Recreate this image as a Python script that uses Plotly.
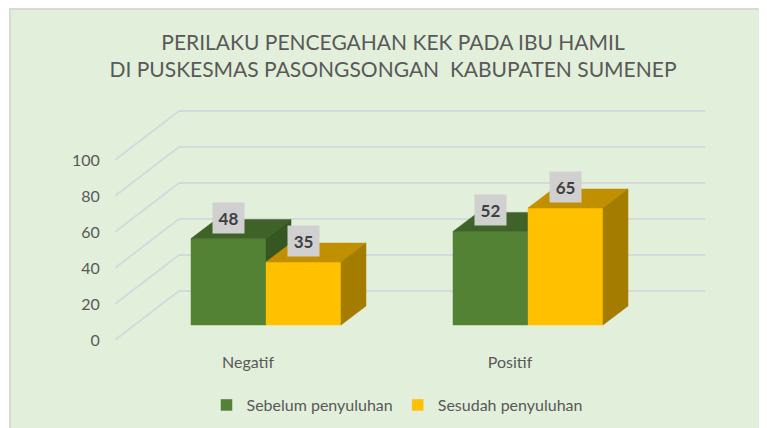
import plotly.graph_objects as go

# ---------------- data ----------------
categories = ["Negatif", "Positif"]
series_names = ["Sebelum penyuluhan", "Sesudah penyuluhan"]
sebelum = [48, 52]
sesudah = [35, 65]
y_ticks = [0, 20, 40, 60, 80, 100]
title_lines = ["PERILAKU PENCEGAHAN KEK PADA IBU HAMIL",
               "DI PUSKESMAS PASONGSONGAN  KABUPATEN SUMENEP"]

# ---------------- styles / layout constants (page pixels) ----------------
PAGE_W, PAGE_H = 767, 428
OFF = 8                        # browser body margin
W, H = PAGE_W - OFF, PAGE_H - OFF
PX = 1.8                       # pixels per value unit
PLOT_LEFT, PLOT_BOTTOM = 115, 340   # page px
ML = PLOT_LEFT - OFF
MB = H - (PLOT_BOTTOM - OFF)
AXIS_X = 115
WALL_DX, WALL_DY = 64, 49 / PX
WALL_RIGHT = 705
GROUP0, GROUP_STEP = 191, 262
BAR_W = 75
BAR_BASE = 15 / PX
DEPTH_DX, DEPTH_DY = 25, 19 / PX
LABEL_DX = -18

FONT = "Lato, 'Open Sans', sans-serif"
TXT = "#595959"
BG = "#e2efda"
GRID = "#d5d8dc"
colors = {
    "front": ["#548235", "#ffc000"],
    "top": ["#3e6228", "#c09000"],
    "side": ["#365722", "#a47c00"],
}

fig = go.Figure()

# ---- gridlines: diagonal (left wall) + back wall ----
gx, gy = [], []
for v in y_ticks:
    gx += [AXIS_X, AXIS_X + WALL_DX, WALL_RIGHT, None]
    gy += [v, v + WALL_DY, v + WALL_DY, None]
fig.add_trace(go.Scatter(x=gx, y=gy, mode="lines", line=dict(color=GRID, width=1.8),
                         hoverinfo="skip", showlegend=False))

# ---- 3D bars drawn as faces ----
all_series = [sebelum, sesudah]
for s, vals in enumerate(all_series):
    fx, fy, tx, ty, sx, sy = [], [], [], [], [], []
    for i, v in enumerate(vals):
        x0 = GROUP0 + i * GROUP_STEP + s * BAR_W
        x1 = x0 + BAR_W
        b = BAR_BASE
        t = BAR_BASE + v
        fx += [x0, x1, x1, x0, x0, None]
        fy += [b, b, t, t, b, None]
        tx += [x0, x1, x1 + DEPTH_DX, x0 + DEPTH_DX, x0, None]
        ty += [t, t, t + DEPTH_DY, t + DEPTH_DY, t, None]
        sx += [x1, x1 + DEPTH_DX, x1 + DEPTH_DX, x1, x1, None]
        sy += [b, b + DEPTH_DY, t + DEPTH_DY, t, b, None]
    for (xx, yy, key) in [(fx, fy, "front"), (tx, ty, "top"), (sx, sy, "side")]:
        fig.add_trace(go.Scatter(x=xx, y=yy, mode="lines", fill="toself",
                                 fillcolor=colors[key][s],
                                 line=dict(color=colors[key][s], width=0.5),
                                 hoverinfo="skip", showlegend=False))
    # data labels
    for i, v in enumerate(vals):
        x0 = GROUP0 + i * GROUP_STEP + s * BAR_W
        fig.add_annotation(x=x0 + BAR_W / 2, y=BAR_BASE + v, yshift=21,
                           text=f"<b>{v}</b>", showarrow=False,
                           font=dict(family=FONT, size=17, color="#404040"),
                           bgcolor="#d0d0d0", width=31, height=30, borderpad=0,
                           xanchor="center", yanchor="middle")

# ---- legend entries ----
for s, name in enumerate(series_names):
    fig.add_trace(go.Bar(x=[None], y=[None], name=name,
                         marker=dict(color=colors["front"][s])))

# ---- frame ----
pw = PAGE_W - PLOT_LEFT
ph = PLOT_BOTTOM - OFF
fig.add_shape(type="rect", xref="paper", yref="paper",
              x0=(10 - PLOT_LEFT) / pw, x1=(PAGE_W + 5 - PLOT_LEFT) / pw,
              y0=(PLOT_BOTTOM - (PAGE_H + 5)) / ph, y1=(PLOT_BOTTOM - 9) / ph,
              fillcolor=BG, line=dict(color="#d9d9d9", width=2), layer="below")

fig.update_layout(
    width=W, height=H,
    margin=dict(l=ML, r=0, t=0, b=MB),
    paper_bgcolor="white", plot_bgcolor="rgba(0,0,0,0)",
    title=dict(text="<br>".join(title_lines), x=(393 - OFF) / W, xref="container",
               xanchor="center", y=1 - 42 / H, yref="container", yanchor="top",
               font=dict(family=FONT, size=21, color=TXT)),
    xaxis=dict(range=[PLOT_LEFT, PAGE_W], showgrid=False, zeroline=False, showline=False,
               tickvals=[GROUP0 + BAR_W + LABEL_DX + i * GROUP_STEP for i in range(len(categories))],
               ticktext=categories, ticks="outside", ticklen=8,
               tickcolor="rgba(0,0,0,0)",
               tickfont=dict(family=FONT, size=16, color=TXT), fixedrange=True),
    yaxis=dict(range=[0, ph / PX], showgrid=False, zeroline=False, showline=False,
               tickvals=y_ticks, ticks="outside", ticklen=11,
               tickcolor="rgba(0,0,0,0)",
               tickfont=dict(family=FONT, size=16, color=TXT), fixedrange=True),
    showlegend=True,
    legend=dict(orientation="h", xref="container", yref="container",
                x=(397 - OFF) / W, xanchor="center", y=1 - (405 - OFF) / H, yanchor="middle",
                font=dict(family=FONT, size=16, color=TXT),
                bgcolor="rgba(0,0,0,0)", itemwidth=30, traceorder="normal"),
    barmode="overlay",
)

fig.write_html("out.html")
